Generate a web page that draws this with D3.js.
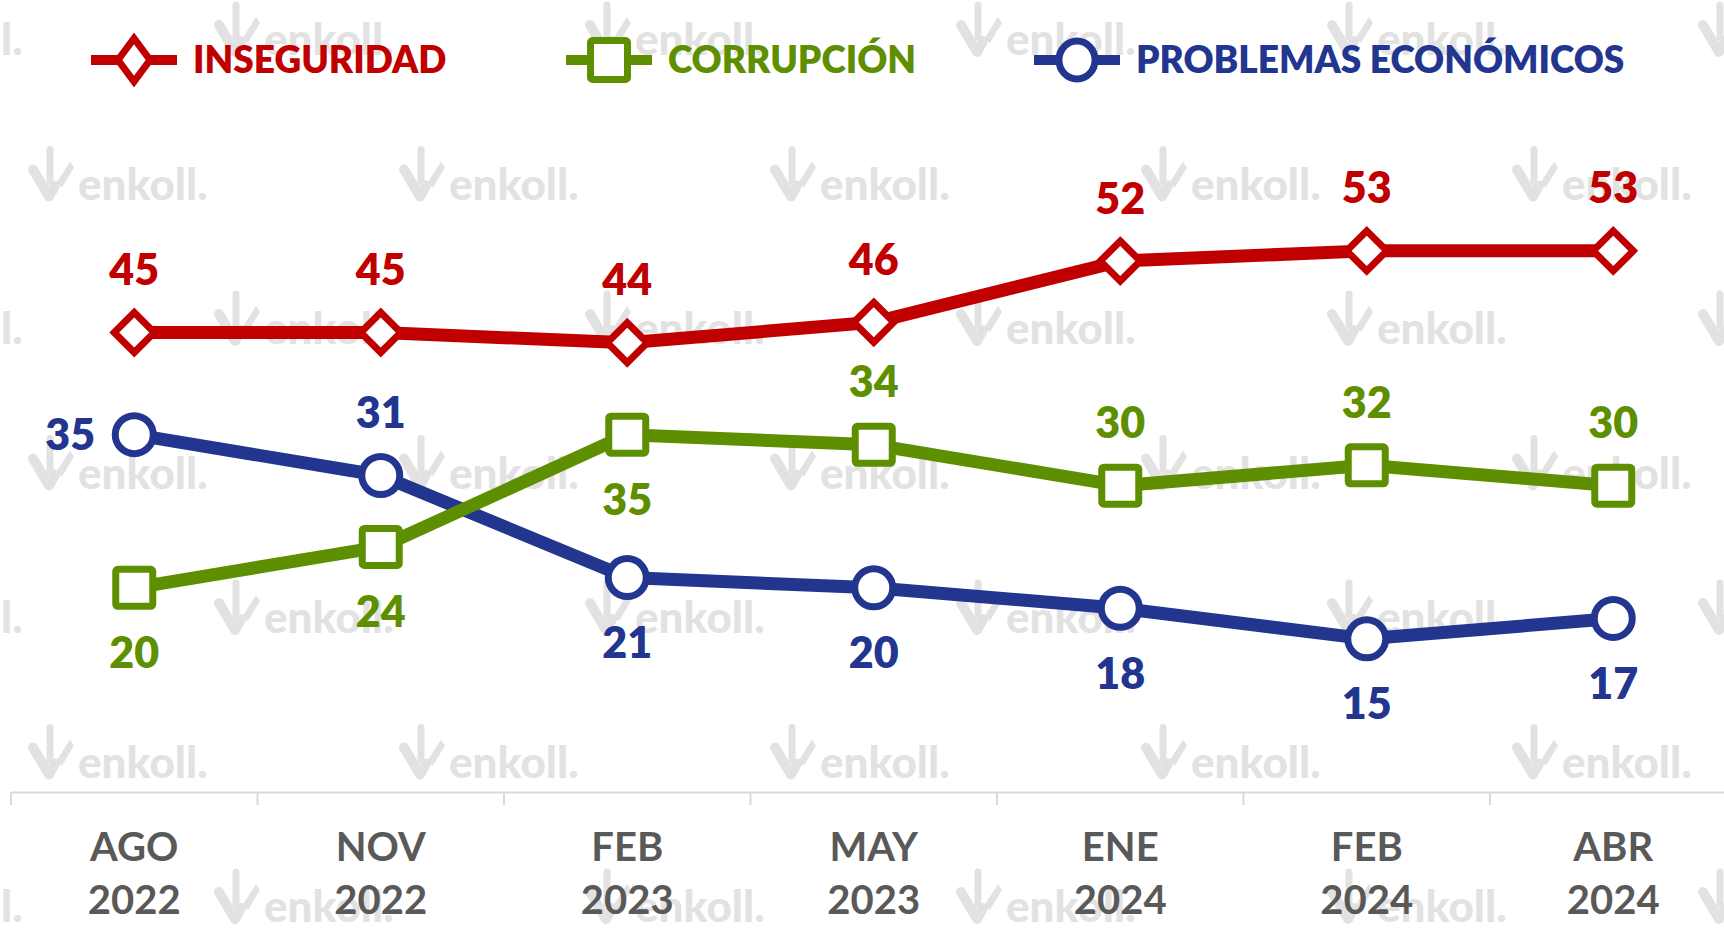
<!DOCTYPE html>
<html>
<head>
<meta charset="utf-8">
<script src="https://cdn.jsdelivr.net/npm/d3@7"></script>
<style>
  html, body { margin: 0; padding: 0; background: #fff; }
  svg { display: block; font-family: Lato, "Noto Sans", sans-serif; }
</style>
</head>
<body>
<svg id="chart" width="1724" height="928"></svg>
<script>
// data
const months = ["AGO", "NOV", "FEB", "MAY", "ENE", "FEB", "ABR"];
const years = ["2022", "2022", "2023", "2023", "2024", "2024", "2024"];
const inseguridad = [45, 45, 44, 46, 52, 53, 53];
const corrupcion = [20, 24, 35, 34, 30, 32, 30];
const economicos = [35, 31, 21, 20, 18, 15, 17];

const seriesNames = ["INSEGURIDAD", "CORRUPCIÓN", "PROBLEMAS ECONÓMICOS"];

// where each value label sits relative to its point
const labelPos = {
    ins: ["up", "up", "up", "up", "up", "up", "up"],
    cor: ["down", "down", "down", "up", "up", "up", "up"],
    eco: ["left", "up", "down", "down", "down", "down", "down"]
};

const RED = "#C00000", GREEN = "#5E8F00", BLUE = "#22358F", GREY = "#595959";

const width = 1724, height = 928;
const svg = d3.select("#chart");

const cats = months.map((m, i) => i);
const x = d3.scaleBand().domain(cats).range([11, 11 + 7 * 246.5]).paddingInner(0).paddingOuter(0);
const y = d3.scaleLinear().domain([0, 60]).range([792, 792 - 60 * 10.21]);
const cx = i => x(i) + x.bandwidth() / 2;

// --- watermark (enkoll.) ---
const wm = svg.append("g").attr("class", "watermark");
const WM = "#e2e2e2";
for (let j = 0; j < 7; j++) {
    const yb = 38 + j * 144.5 + 17;
    const off = j % 2 == 0 ? 214 - 371 : 28;
    for (let k = 0; k < 6; k++) {
        const x0 = off + k * 371;
        const g = wm.append("g").attr("transform", `translate(${x0},${yb})`);
        // logo: a tick with a stem and a small leaf
        g.append("path")
            .attr("d", "M5,-30 L21,-3 L27,-14")
            .attr("fill", "none").attr("stroke", WM)
            .attr("stroke-width", 10).attr("stroke-linejoin", "round").attr("stroke-linecap", "round");
        g.append("path")
            .attr("d", "M22,-50 L22,-18")
            .attr("fill", "none").attr("stroke", WM)
            .attr("stroke-width", 7).attr("stroke-linecap", "round");
        g.append("path")
            .attr("d", "M28,-16 L42,-38 L46,-32 L34,-12 Z")
            .attr("fill", WM);
        g.append("text")
            .attr("x", 50).attr("y", 0)
            .attr("font-size", 44).attr("font-weight", 900)
            .attr("fill", WM)
            .text("enkoll.");
    }
}

// --- x axis ---
const axisG = svg.append("g")
    .attr("transform", `translate(0,${y(0)})`)
    .call(d3.axisBottom(x).tickSize(13).tickSizeOuter(0).tickFormat(""));
axisG.select(".domain").attr("stroke", "#d9d9d9").attr("stroke-width", 2);
axisG.selectAll(".tick line")
    .attr("x1", -x.bandwidth() / 2).attr("x2", -x.bandwidth() / 2)
    .attr("stroke", "#d9d9d9").attr("stroke-width", 2);

const xl = svg.append("g").attr("class", "xlabels")
    .attr("font-size", 40).attr("font-weight", 700).attr("fill", GREY)
    .attr("text-anchor", "middle");
xl.selectAll("text.m").data(months).join("text").attr("class", "m")
    .attr("x", (d, i) => cx(i)).attr("y", 861).text(d => d);
xl.selectAll("text.y").data(years).join("text").attr("class", "y")
    .attr("x", (d, i) => cx(i)).attr("y", 914).text(d => d);

// --- markers ---
function drawMarker(g, type, color, sx = 1, sy = 1) {
    if (type == "diamond") {
        g.append("path")
            .attr("d", `M0,${-20 * sy} L${20 * sx},0 L0,${20 * sy} L${-20 * sx},0 Z`)
            .attr("fill", "#fff").attr("stroke", color).attr("stroke-width", 7)
            .attr("stroke-linejoin", "miter");
    } else if (type == "square") {
        g.append("rect")
            .attr("x", -18.5 * sx).attr("y", -18.5 * sy)
            .attr("width", 37 * sx).attr("height", 37 * sy)
            .attr("rx", 2)
            .attr("fill", "#fff").attr("stroke", color).attr("stroke-width", 7);
    } else {
        g.append("ellipse")
            .attr("rx", 19 * sx).attr("ry", 19 * sy)
            .attr("fill", "#fff").attr("stroke", color).attr("stroke-width", 7);
    }
}

const series = [
    { key: "eco", values: economicos, color: BLUE, marker: "circle" },
    { key: "cor", values: corrupcion, color: GREEN, marker: "square" },
    { key: "ins", values: inseguridad, color: RED, marker: "diamond" }
];

const line = d3.line().x((d, i) => cx(i)).y(d => y(d));

series.forEach(s => {
    const g = svg.append("g").attr("class", "series-" + s.key);
    g.append("path")
        .attr("d", line(s.values))
        .attr("fill", "none").attr("stroke", s.color)
        .attr("stroke-width", 13).attr("stroke-linejoin", "round");
    s.values.forEach((v, i) => {
        const mg = g.append("g").attr("transform", `translate(${cx(i)},${y(v)})`);
        drawMarker(mg, s.marker, s.color);
    });
});

// value labels on top
series.forEach(s => {
    const g = svg.append("g").attr("class", "labels-" + s.key)
        .attr("font-size", 43).attr("font-weight", 800).attr("fill", s.color)
        .attr("text-anchor", "middle");
    s.values.forEach((v, i) => {
        const pos = labelPos[s.key][i];
        let lx = cx(i), ly = y(v);
        if (pos == "up") ly -= 63;
        else if (pos == "down") ly += 65;
        else lx -= 64;
        g.append("text").attr("x", lx).attr("y", ly).attr("dy", "0.36em").text(v);
    });
});

// --- legend ---
const legendItems = [
    { name: seriesNames[0], color: RED, marker: "diamond", x0: 91, sx: 0.8, sy: 1.08 },
    { name: seriesNames[1], color: GREEN, marker: "square", x0: 566, sx: 1.0, sy: 1.05 },
    { name: seriesNames[2], color: BLUE, marker: "circle", x0: 1034, sx: 0.95, sy: 1.0 }
];
const lg = svg.append("g").attr("class", "legend");
legendItems.forEach(d => {
    const g = lg.append("g").attr("transform", `translate(${d.x0},60)`);
    g.append("line").attr("x1", 0).attr("x2", 86)
        .attr("stroke", d.color).attr("stroke-width", 10);
    drawMarker(g.append("g").attr("transform", "translate(43,0)"), d.marker, d.color, d.sx, d.sy);
    g.append("text").attr("x", 102).attr("y", 13)
        .attr("font-size", 37).attr("font-weight", 800).attr("fill", d.color)
        .text(d.name);
});
</script>
</body>
</html>
